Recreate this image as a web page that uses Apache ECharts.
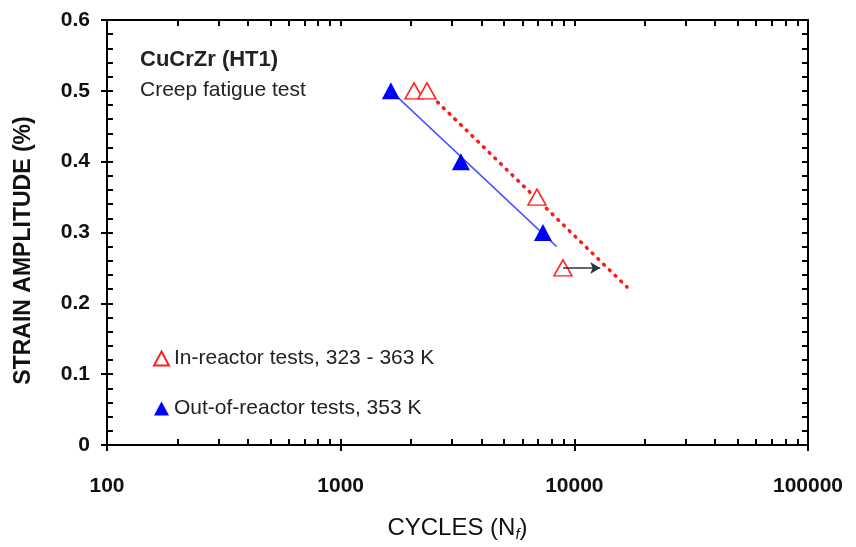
<!DOCTYPE html>
<html>
<head>
<meta charset="utf-8">
<script src="https://cdn.jsdelivr.net/npm/echarts@6/dist/echarts.min.js"></script>
<style>
  html, body { margin: 0; padding: 0; background: #fff; }
  #main { width: 856px; height: 547px; }
</style>
</head>
<body>
<div id="main"></div>
<script>
// 数据
var inReactorCycles = [2060, 2340, 6920, 8940];
var inReactorStrain = [0.5, 0.5, 0.35, 0.25];
var outReactorCycles = [1640, 3270, 7340];
var outReactorStrain = [0.5, 0.4, 0.3];
// 拟合线
var inFitCycles = [2600, 16800];
var inFitStrain = [0.484, 0.223];
var outFitCycles = [1640, 8400];
var outFitStrain = [0.5, 0.28];
// runout 箭头
var runoutCycles = [8940, 12900];
var runoutStrain = 0.25;

var xDecades = [100, 1000, 10000, 100000];

function pairs(xs, ys) {
    var out = [];
    for (var i = 0; i < xs.length; i++) out.push([xs[i], ys[i]]);
    return out;
}

// 对数轴刻度（log10 空间）
var logTicks = [];
for (var d = 0; d < xDecades.length; d++) {
    for (var m = 1; m <= 9; m++) {
        var v = xDecades[d] * m;
        if (v <= 100000) logTicks.push(Math.log10(v));
    }
}

var sans = "'Liberation Sans', Arial, sans-serif";

var myChart = echarts.init(document.getElementById('main'));
var option = {
    backgroundColor: '#fff',
    animation: false,
    title: {
        text: 'CuCrZr (HT1)',
        subtext: 'Creep fatigue test',
        left: 135,
        top: 44,
        itemGap: 9,
        textStyle: { fontFamily: sans, fontSize: 22, fontWeight: 'bold', color: '#222' },
        subtextStyle: { fontFamily: sans, fontSize: 21, color: '#222' }
    },
    legend: {
        data: ['In-reactor tests, 323 - 363 K', 'Out-of-reactor tests, 353 K'],
        orient: 'vertical',
        left: 148,
        top: 343,
        itemGap: 29,
        itemWidth: 15,
        itemHeight: 14,
        textStyle: { fontFamily: sans, fontSize: 21, color: '#222' }
    },
    grid: { left: 107, right: 48, top: 20, bottom: 102 },
    xAxis: [{
        type: 'log',
        logBase: 10,
        min: 100,
        max: 100000,
        position: 'bottom',
        name: '{a|CYCLES (N}{s|f}{a|)}',
        nameLocation: 'middle',
        nameGap: 70,
        nameTextStyle: {
            rich: {
                a: { fontFamily: sans, fontSize: 24, color: '#111' },
                s: { fontFamily: sans, fontSize: 15, fontStyle: 'italic', color: '#111', padding: [12, 0, 0, 0] }
            }
        },
        axisLine: { onZero: false, lineStyle: { color: '#000', width: 2 } },
        axisTick: { show: true, inside: false, length: 6, lineStyle: { color: '#000', width: 2 } },
        axisLabel: {
            margin: 31,
            fontFamily: sans, fontSize: 21, fontWeight: 'bold', color: '#111',
            formatter: function (v) { return String(v); }
        },
        splitLine: { show: false }
    }, {
        // 内侧刻度
        type: 'value', min: 2, max: 5, position: 'bottom',
        axisLine: { show: false, onZero: false },
        axisTick: { show: true, inside: true, length: 6, customValues: logTicks, lineStyle: { color: '#000', width: 2 } },
        axisLabel: { show: false },
        splitLine: { show: false }
    }, {
        type: 'value', min: 2, max: 5, position: 'top',
        axisLine: { show: true, onZero: false, lineStyle: { color: '#000', width: 2 } },
        axisTick: { show: true, inside: true, length: 6, customValues: logTicks, lineStyle: { color: '#000', width: 2 } },
        axisLabel: { show: false },
        splitLine: { show: false }
    }],
    yAxis: [{
        type: 'value',
        min: 0,
        max: 0.6,
        interval: 0.1,
        position: 'left',
        name: 'STRAIN AMPLITUDE (%)',
        nameLocation: 'middle',
        nameRotate: 90,
        nameGap: 72,
        nameTextStyle: { fontFamily: sans, fontSize: 23, fontWeight: 'bold', color: '#111', padding: [0, 36, 0, 0] },
        axisLine: { show: true, onZero: false, lineStyle: { color: '#000', width: 2 } },
        axisTick: { show: true, inside: false, length: 6, lineStyle: { color: '#000', width: 2 } },
        axisLabel: {
            margin: 17,
            fontFamily: sans, fontSize: 21, fontWeight: 'bold', color: '#111',
            formatter: function (v) { return v === 0 ? '0' : v.toFixed(1); }
        },
        splitLine: { show: false }
    }, {
        type: 'value', min: 0, max: 0.6, interval: 0.02, position: 'left',
        axisLine: { show: false, onZero: false },
        axisTick: { show: true, inside: true, length: 6, lineStyle: { color: '#000', width: 2 } },
        axisLabel: { show: false },
        splitLine: { show: false }
    }, {
        type: 'value', min: 0, max: 0.6, interval: 0.02, position: 'right',
        axisLine: { show: true, onZero: false, lineStyle: { color: '#000', width: 2 } },
        axisTick: { show: true, inside: true, length: 6, lineStyle: { color: '#000', width: 2 } },
        axisLabel: { show: false },
        splitLine: { show: false }
    }],
    series: [{
        name: 'inFit',
        type: 'line',
        data: pairs(inFitCycles, inFitStrain),
        symbol: 'none',
        lineStyle: { color: '#ff1a1a', width: 3.5, type: [1, 7], cap: 'round' },
        z: 2
    }, {
        name: 'outFit',
        type: 'line',
        data: pairs(outFitCycles, outFitStrain),
        symbol: 'none',
        lineStyle: { color: '#4455ff', width: 1.5 },
        z: 2
    }, {
        name: 'In-reactor tests, 323 - 363 K',
        type: 'scatter',
        data: pairs(inReactorCycles, inReactorStrain),
        symbol: 'triangle',
        symbolSize: [18, 16],
        itemStyle: { color: '#fff', borderColor: '#ff2020', borderWidth: 1.5, opacity: 1 },
        markLine: {
            silent: true,
            symbol: ['none', 'arrow'],
            symbolSize: [9, 10],
            label: { show: false },
            lineStyle: { color: '#333', width: 1.5, type: 'solid' },
            data: [[{ coord: [runoutCycles[0], runoutStrain] }, { coord: [runoutCycles[1], runoutStrain] }]]
        },
        z: 4
    }, {
        name: 'Out-of-reactor tests, 353 K',
        type: 'scatter',
        data: pairs(outReactorCycles, outReactorStrain),
        symbol: 'triangle',
        symbolSize: [18, 17],
        itemStyle: { color: '#0000ff', opacity: 1 },
        z: 5
    }]
};
myChart.setOption(option);
</script>
</body>
</html>
